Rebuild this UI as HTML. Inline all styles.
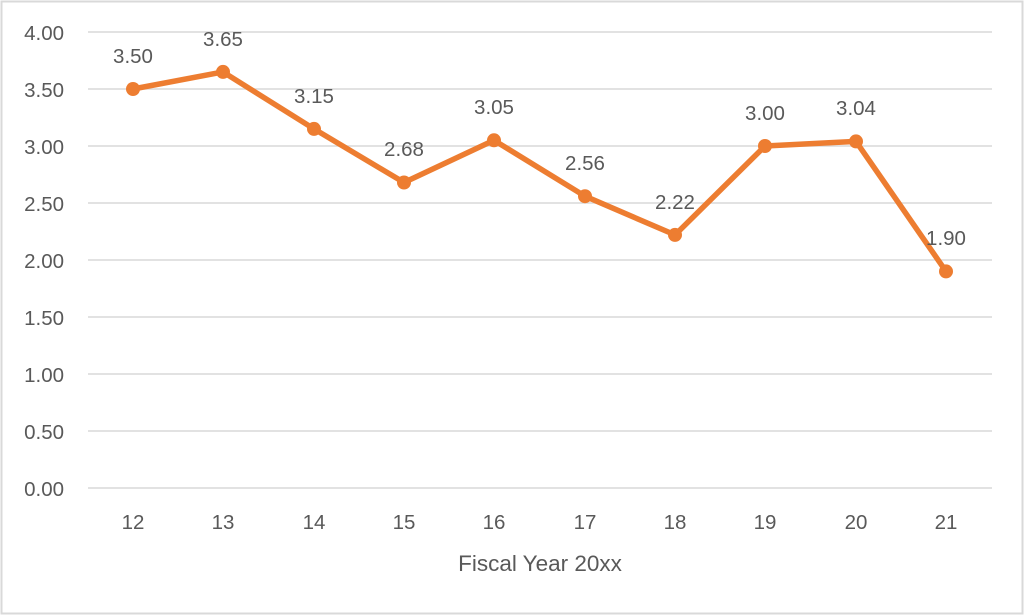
<!DOCTYPE html>
<html><head><meta charset="utf-8"><style>
html,body{margin:0;padding:0;background:#fff;}
svg{display:block;}
text{font-family:"Liberation Sans",sans-serif;fill:#595959;}
</style></head><body>
<svg width="1024" height="615" viewBox="0 0 1024 615">
<rect x="1.5" y="1.5" width="1021" height="612" fill="#fff" stroke="#d9d9d9" stroke-width="2"/>
<g stroke="#d9d9d9" stroke-width="1.5">
<line x1="88" x2="992" y1="32" y2="32"/>
<line x1="88" x2="992" y1="89" y2="89"/>
<line x1="88" x2="992" y1="146" y2="146"/>
<line x1="88" x2="992" y1="203" y2="203"/>
<line x1="88" x2="992" y1="260" y2="260"/>
<line x1="88" x2="992" y1="317" y2="317"/>
<line x1="88" x2="992" y1="374" y2="374"/>
<line x1="88" x2="992" y1="431" y2="431"/>
<line x1="88" x2="992" y1="488" y2="488"/>
</g>
<g font-size="20.5" text-anchor="end">
<text x="64" y="40">4.00</text>
<text x="64" y="97">3.50</text>
<text x="64" y="154">3.00</text>
<text x="64" y="211">2.50</text>
<text x="64" y="268">2.00</text>
<text x="64" y="325">1.50</text>
<text x="64" y="382">1.00</text>
<text x="64" y="439">0.50</text>
<text x="64" y="496">0.00</text>
</g>
<g font-size="20.5" text-anchor="middle">
<text x="133" y="529">12</text>
<text x="223" y="529">13</text>
<text x="314" y="529">14</text>
<text x="404" y="529">15</text>
<text x="494" y="529">16</text>
<text x="585" y="529">17</text>
<text x="675" y="529">18</text>
<text x="765" y="529">19</text>
<text x="856" y="529">20</text>
<text x="946" y="529">21</text>
</g>
<text x="540" y="571" font-size="22.5" text-anchor="middle">Fiscal Year 20xx</text>
<polyline fill="none" stroke="#ed7d31" stroke-width="5.5" stroke-linejoin="round"
points="133,89 223,71.9 314,128.9 404,182.5 494,140.3 585,196.2 675,234.9 765,146 856,141.4 946,271.4"/>
<g fill="#ed7d31">
<circle cx="133" cy="89" r="7"/><circle cx="223" cy="71.9" r="7"/><circle cx="314" cy="128.9" r="7"/>
<circle cx="404" cy="182.5" r="7"/><circle cx="494" cy="140.3" r="7"/><circle cx="585" cy="196.2" r="7"/>
<circle cx="675" cy="234.9" r="7"/><circle cx="765" cy="146" r="7"/><circle cx="856" cy="141.4" r="7"/>
<circle cx="946" cy="271.4" r="7"/>
</g>
<g font-size="20.5" text-anchor="middle">
<text x="133" y="63">3.50</text>
<text x="223" y="46">3.65</text>
<text x="314" y="103">3.15</text>
<text x="404" y="156">2.68</text>
<text x="494" y="114">3.05</text>
<text x="585" y="170">2.56</text>
<text x="675" y="209">2.22</text>
<text x="765" y="120">3.00</text>
<text x="856" y="115">3.04</text>
<text x="946" y="245">1.90</text>
</g>
</svg>
</body></html>
